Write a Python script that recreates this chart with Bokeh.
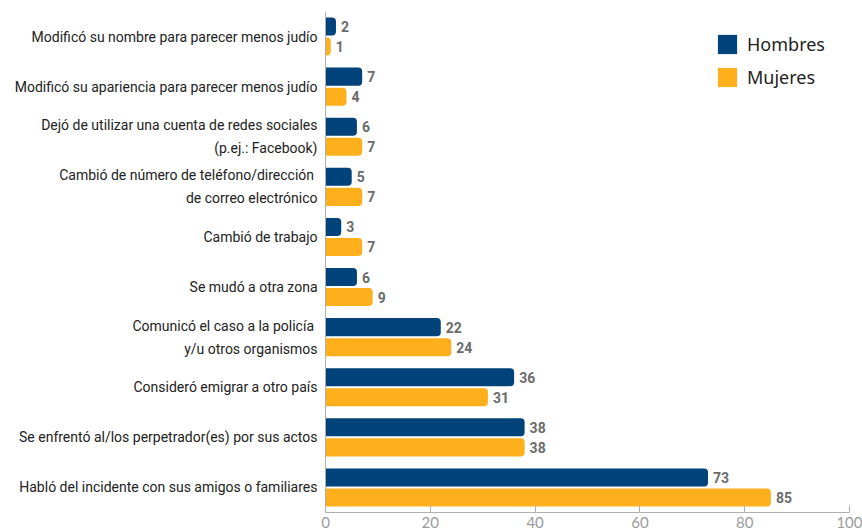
from bokeh.plotting import figure
from bokeh.models import ColumnDataSource, FactorRange, Range1d, FixedTicker, Legend
from bokeh.transform import dodge
from bokeh.core.properties import value
from bokeh.embed import file_html
from bokeh.resources import INLINE

categories = [
    "Modificó su nombre para parecer menos judío",
    "Modificó su apariencia para parecer menos judío",
    "Dejó de utilizar una cuenta de redes sociales\n(p.ej.: Facebook)",
    "Cambió de número de teléfono/dirección \nde correo electrónico",
    "Cambió de trabajo",
    "Se mudó a otra zona",
    "Comunicó el caso a la policía \ny/u otros organismos",
    "Consideró emigrar a otro país",
    "Se enfrentó al/los perpetrador(es) por sus actos",
    "Habló del incidente con sus amigos o familiares",
]
hombres = [2, 7, 6, 5, 3, 6, 22, 36, 38, 73]
mujeres = [1, 4, 7, 7, 7, 9, 24, 31, 38, 85]
x_ticks = [0, 20, 40, 60, 80, 100]

NAVY = "#00427a"
GOLD = "#fdb01b"
LABEL_FONT = "Roboto"

source = ColumnDataSource(dict(
    cat=categories,
    h=hombres,
    m=mujeres,
    h_txt=[str(v) for v in hombres],
    m_txt=[str(v) for v in mujeres],
))

p = figure(
    width=862, height=532,
    y_range=FactorRange(factors=list(reversed(categories)), range_padding=0),
    x_range=Range1d(0, 100),
    output_backend="svg", toolbar_location=None,
    min_border_left=325, min_border_right=13, min_border_top=11, min_border_bottom=20,
)
p.outline_line_color = None
p.xgrid.grid_line_color = None
p.ygrid.grid_line_color = None

rh = p.hbar(y=dodge("cat", 0.2, range=p.y_range), right="h", left=0, height=0.36,
            source=source, fill_color=NAVY, line_color=None,
            border_radius=(0, 4, 4, 0))
rm = p.hbar(y=dodge("cat", -0.2, range=p.y_range), right="m", left=0, height=0.36,
            source=source, fill_color=GOLD, line_color=None,
            border_radius=(0, 4, 4, 0))

for col, txt, off in (("h", "h_txt", 0.2), ("m", "m_txt", -0.2)):
    p.text(x=col, y=dodge("cat", off, range=p.y_range), text=txt, source=source,
           x_offset=5, text_baseline="middle", text_align="left",
           text_font=value(LABEL_FONT), text_font_style="bold",
           text_font_size="14px", text_color="#6b6b6b")

legend = Legend(items=[("Hombres", [rh]), ("Mujeres", [rm])], location=(390, 423))
legend.glyph_width = 24
legend.glyph_height = 24
legend.label_height = 24
legend.spacing = 9
legend.label_standoff = 8
legend.margin = 0
legend.padding = 10
legend.border_line_color = None
legend.background_fill_alpha = 0
legend.label_text_font = "Noto Sans"
legend.label_text_font_size = "18px"
legend.label_text_color = "#222222"
p.add_layout(legend)

xa = p.xaxis[0]
xa.ticker = FixedTicker(ticks=x_ticks)
xa.major_tick_in = 7
xa.major_tick_out = 0
xa.minor_tick_line_color = None
xa.axis_line_color = "#b0b0b0"
xa.major_tick_line_color = "#b0b0b0"
xa.major_label_text_font = "Lato"
xa.major_label_text_font_size = "15px"
xa.major_label_text_color = "#9a9a9a"
xa.major_label_standoff = 4

ya = p.yaxis[0]
ya.major_tick_line_color = None
ya.minor_tick_line_color = None
ya.axis_line_color = "#b0b0b0"
ya.major_label_text_font = LABEL_FONT
ya.major_label_text_font_size = "14px"
ya.major_label_text_color = "#222222"
ya.major_label_text_line_height = 1.43
ya.major_label_standoff = 2

open("out.html", "w").write(file_html(p, INLINE))
